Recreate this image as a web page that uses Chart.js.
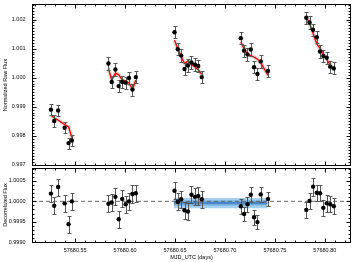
<!DOCTYPE html>
<html>
<head>
<meta charset="utf-8">
<script src="https://cdn.jsdelivr.net/npm/chart.js@4.4.1/dist/chart.umd.min.js"></script>
<style>
  html, body { margin: 0; padding: 0; background: #fff; }
  #wrap { position: relative; width: 355px; height: 262px; }
  #wrap canvas { position: absolute; left: 0; top: 0; }
</style>
</head>
<body>
<div id="wrap"><canvas id="raw" width="355" height="262"></canvas><canvas id="det" width="355" height="262"></canvas></div>
<script>
'use strict';
// Light curve: raw flux + systematics model (top), decorrelated flux + fitted level (bottom).

const TIME = [
  57680.52575, 57680.52904, 57680.53293, 57680.53952, 57680.54341, 57680.54671,
  57680.58333, 57680.58663, 57680.59032, 57680.59361, 57680.59711, 57680.60060, 57680.60389, 57680.60739, 57680.61078,
  57680.64950, 57680.65280, 57680.65619, 57680.65950, 57680.66297, 57680.66647, 57680.66996, 57680.67325, 57680.67675,
  57680.71587, 57680.71916, 57680.72256, 57680.72585, 57680.72914, 57680.73253, 57680.73583, 57680.74311,
  57680.78144, 57680.78473, 57680.78822, 57680.79191, 57680.79521, 57680.79850, 57680.80189, 57680.80539, 57680.80898,
];
const RAW = [
  0.99890, 0.99851, 0.99887, 0.99828, 0.99775, 0.99784,
  1.00049, 0.99985, 1.00028, 0.99971, 0.99985, 0.99983, 0.99999, 0.99959, 1.00002,
  1.00156, 1.00098, 1.00076, 1.00030, 1.00042, 1.00052, 1.00045, 1.00040, 1.00002,
  1.00136, 1.00093, 1.00080, 1.00097, 1.00036, 1.00013, 1.00056, 1.00023,
  1.00206, 1.00190, 1.00165, 1.00139, 1.00090, 1.00075, 1.00069, 1.00038, 1.00032,
];
const RAW_ERR = [
  0.00019, 0.00019, 0.00019, 0.00019, 0.00019, 0.00019,
  0.00022, 0.00021, 0.00021, 0.00021, 0.00021, 0.00021, 0.00021, 0.00021, 0.00021,
  0.00021, 0.00021, 0.00021, 0.00021, 0.00021, 0.00021, 0.00021, 0.00021, 0.00021,
  0.00021, 0.00021, 0.00021, 0.00021, 0.00021, 0.00021, 0.00021, 0.00021,
  0.00021, 0.00021, 0.00021, 0.00021, 0.00021, 0.00021, 0.00021, 0.00021, 0.00021,
];
const MODEL = [
  0.99871, 0.99862, 0.99854, 0.99839, 0.99831, 0.99794,
  1.00032, 0.99992, 1.00016, 1.00010, 0.99993, 0.99988, 0.99982, 0.99960, 0.99992,
  1.00129, 1.00099, 1.00072, 1.00049, 1.00058, 1.00046, 1.00037, 1.00027, 1.00012,
  1.00123, 1.00099, 1.00080, 1.00076, 1.00071, 1.00064, 1.00052, 1.00008,
  1.00208, 1.00186, 1.00153, 1.00116, 1.00101, 1.00082, 1.00062, 1.00045, 1.00030,
];
const DETR = [
  1.00019, 0.99989, 1.00035, 0.99995, 0.99944, 1.00000,
  0.99994, 0.99997, 1.00011, 0.99956, 1.00006, 0.99993, 1.00000, 1.00018, 1.00020,
  1.00026, 0.99999, 1.00005, 0.99978, 0.99975, 1.00016, 1.00011, 1.00013, 1.00005,
  0.99988, 0.99969, 0.99993, 1.00016, 0.99961, 0.99949, 1.00017, 1.00006,
  0.99979, 1.00001, 1.00036, 1.00021, 1.00020, 0.99984, 0.99995, 0.99993, 0.99988,
];
const DETR_ERR = [
  0.00021, 0.00021, 0.00021, 0.00021, 0.00021, 0.00021,
  0.00021, 0.00021, 0.00021, 0.00021, 0.00021, 0.00021, 0.00021, 0.00021, 0.00021,
  0.00021, 0.00021, 0.00021, 0.00021, 0.00021, 0.00021, 0.00021, 0.00021, 0.00021,
  0.00018, 0.00018, 0.00018, 0.00018, 0.00018, 0.00018, 0.00018, 0.00018,
  0.00020, 0.00020, 0.00022, 0.00020, 0.00020, 0.00020, 0.00020, 0.00020, 0.00020,
];
// fitted flux level over the middle visits
const BAND_T = [57680.6488, 57680.7426];
const BAND_MEAN = 0.99996;
const BAND_IN = [0.99990, 1.00002];
const BAND_OUT = [0.99983, 1.00008];

const X_TICKS = [57680.55, 57680.60, 57680.65, 57680.70, 57680.75, 57680.80];
const RAW_TICKS = [0.997, 0.998, 0.999, 1.000, 1.001, 1.002];
const DETR_TICKS = [0.9990, 0.9995, 1.0000, 1.0005];
const X_RANGE = [57680.5068, 57680.8262];
const RAW_RANGE = [0.996963, 1.002534];
const DETR_RANGE = [0.99899, 1.00083];

Chart.defaults.font.family = '"Liberation Sans", Arial, sans-serif';
Chart.defaults.font.size = 5.5;
Chart.defaults.color = '#000';

const pts = ys => TIME.map((x, i) => ({ x, y: ys[i] }));
// break the model line between visits
function withGaps(xs, ys) {
  const out = [];
  xs.forEach((x, i) => {
    if (i && x - xs[i - 1] > 0.01) out.push({ x: (x + xs[i - 1]) / 2, y: null });
    out.push({ x, y: ys[i] });
  });
  return out;
}

// error bars drawn just before the points dataset
function errorBars(vals, err) {
  return {
    id: 'errorBars',
    beforeDatasetDraw(chart, args) {
      if (args.index !== 0) return;
      const { ctx, scales: { x, y } } = chart;
      ctx.save();
      ctx.strokeStyle = '#555'; ctx.lineWidth = 1;
      ctx.beginPath();
      TIME.forEach((t, i) => {
        const px = Math.round(x.getPixelForValue(t)) + 0.5;
        const y1 = Math.round(y.getPixelForValue(vals[i] + err[i])) + 0.5;
        const y2 = Math.round(y.getPixelForValue(vals[i] - err[i])) + 0.5;
        ctx.moveTo(px, y1); ctx.lineTo(px, y2);
        ctx.moveTo(px - 2, y1); ctx.lineTo(px + 2, y1);
        ctx.moveTo(px - 2, y2); ctx.lineTo(px + 2, y2);
      });
      ctx.stroke();
      ctx.restore();
    },
  };
}

// IDL-style box with inward major/minor ticks
function frame(yMinor) {
  return {
    id: 'frame',
    afterDraw(chart) {
      const { ctx, chartArea: a, scales: { x, y } } = chart;
      const L = Math.round(a.left) + 0.5, R = Math.round(a.right) - 0.5;
      const T = Math.round(a.top) + 0.5, B = Math.round(a.bottom) - 0.5;
      ctx.save();
      ctx.strokeStyle = '#000'; ctx.lineWidth = 1;
      ctx.strokeRect(L, T, R - L, B - T);
      ctx.beginPath();
      for (let k = 51; k <= 82; k++) {
        const v = 57680 + k / 100, len = k % 5 === 0 ? 4 : 2;
        const px = Math.round(x.getPixelForValue(v)) + 0.5;
        ctx.moveTo(px, B); ctx.lineTo(px, B - len);
        ctx.moveTo(px, T); ctx.lineTo(px, T + len);
      }
      for (let k = yMinor[0]; k <= yMinor[1]; k++) {
        const v = k / 10000, len = k % yMinor[2] === 0 ? 4 : 2;
        const py = Math.round(y.getPixelForValue(v)) + 0.5;
        if (py < T || py > B) continue;
        ctx.moveTo(L, py); ctx.lineTo(L + len, py);
        ctx.moveTo(R, py); ctx.lineTo(R - len, py);
      }
      ctx.stroke();
      ctx.restore();
    },
  };
}

function yAxis(range, ticks, digits, title) {
  return {
    type: 'linear', min: range[0], max: range[1],
    afterFit: s => { s.width = 32; s.paddingTop = 0; s.paddingBottom = 0; },
    afterBuildTicks: s => { s.ticks = ticks.map(v => ({ value: v })); },
    ticks: { autoSkip: false, padding: 6.5, callback: v => v.toFixed(digits) },
    grid: { display: false, drawTicks: false }, border: { display: false },
    title: { display: true, text: title, padding: { top: 2.2, bottom: 0 } },
  };
}

const common = {
  responsive: false, animation: false, events: [],
  plugins: { legend: { display: false }, tooltip: { enabled: false } },
};
const pointDs = ys => ({ data: pts(ys), showLine: false, pointRadius: 2.2, pointBackgroundColor: '#000', pointBorderWidth: 0 });

new Chart(document.getElementById('raw'), {
  type: 'line',
  data: {
    datasets: [
      pointDs(RAW),
      { data: withGaps(TIME, MODEL), borderColor: '#f00', borderWidth: 1.4, pointRadius: 0, spanGaps: false },
      { data: withGaps(TIME, MODEL), borderColor: 'rgba(185,185,185,0.45)', borderWidth: 4, pointRadius: 0, spanGaps: false },
    ],
  },
  options: {
    ...common,
    layout: { padding: { left: 0, right: 3, top: 0, bottom: 96 } },
    scales: {
      x: { type: 'linear', min: X_RANGE[0], max: X_RANGE[1], display: false },
      y: yAxis(RAW_RANGE, RAW_TICKS, 3, 'Normalized Raw Flux'),
    },
  },
  plugins: [errorBars(RAW, RAW_ERR), frame([9969, 10025, 10])],
});

new Chart(document.getElementById('det'), {
  type: 'line',
  data: {
    datasets: [
      pointDs(DETR),
      { data: [{ x: X_RANGE[0], y: 1 }, { x: X_RANGE[1], y: 1 }], borderColor: '#666', borderWidth: 1, borderDash: [4, 3], pointRadius: 0 },
      { data: BAND_T.map(x => ({ x, y: BAND_MEAN })), borderColor: '#2a62b0', borderWidth: 1, pointRadius: 0 },
      { data: BAND_T.map(x => ({ x, y: BAND_IN[1] })), borderWidth: 0, pointRadius: 0, fill: '+1', backgroundColor: 'rgba(90,160,218,0.75)' },
      { data: BAND_T.map(x => ({ x, y: BAND_IN[0] })), borderWidth: 0, pointRadius: 0 },
      { data: BAND_T.map(x => ({ x, y: BAND_OUT[1] })), borderWidth: 0, pointRadius: 0, fill: '+1', backgroundColor: 'rgba(150,200,236,0.85)' },
      { data: BAND_T.map(x => ({ x, y: BAND_OUT[0] })), borderWidth: 0, pointRadius: 0 },
    ],
  },
  options: {
    ...common,
    layout: { padding: { left: 0, right: 3, top: 167.5, bottom: 0 } },
    scales: {
      x: {
        type: 'linear', min: X_RANGE[0], max: X_RANGE[1],
        afterFit: s => { s.height = 19.5; s.paddingLeft = 0; s.paddingRight = 0; },
        afterBuildTicks: s => { s.ticks = X_TICKS.map(v => ({ value: v })); },
        ticks: { autoSkip: false, maxRotation: 0, padding: 5, callback: v => v.toFixed(2) },
        grid: { display: false, drawTicks: false }, border: { display: false },
        title: { display: true, text: 'MJD_UTC (days)', padding: { top: 0, bottom: 1.4 } },
      },
      y: yAxis(DETR_RANGE, DETR_TICKS, 4, 'Decorrelated Flux'),
    },
  },
  plugins: [errorBars(DETR, DETR_ERR), frame([9989, 10008, 5])],
});
</script>
</body>
</html>
